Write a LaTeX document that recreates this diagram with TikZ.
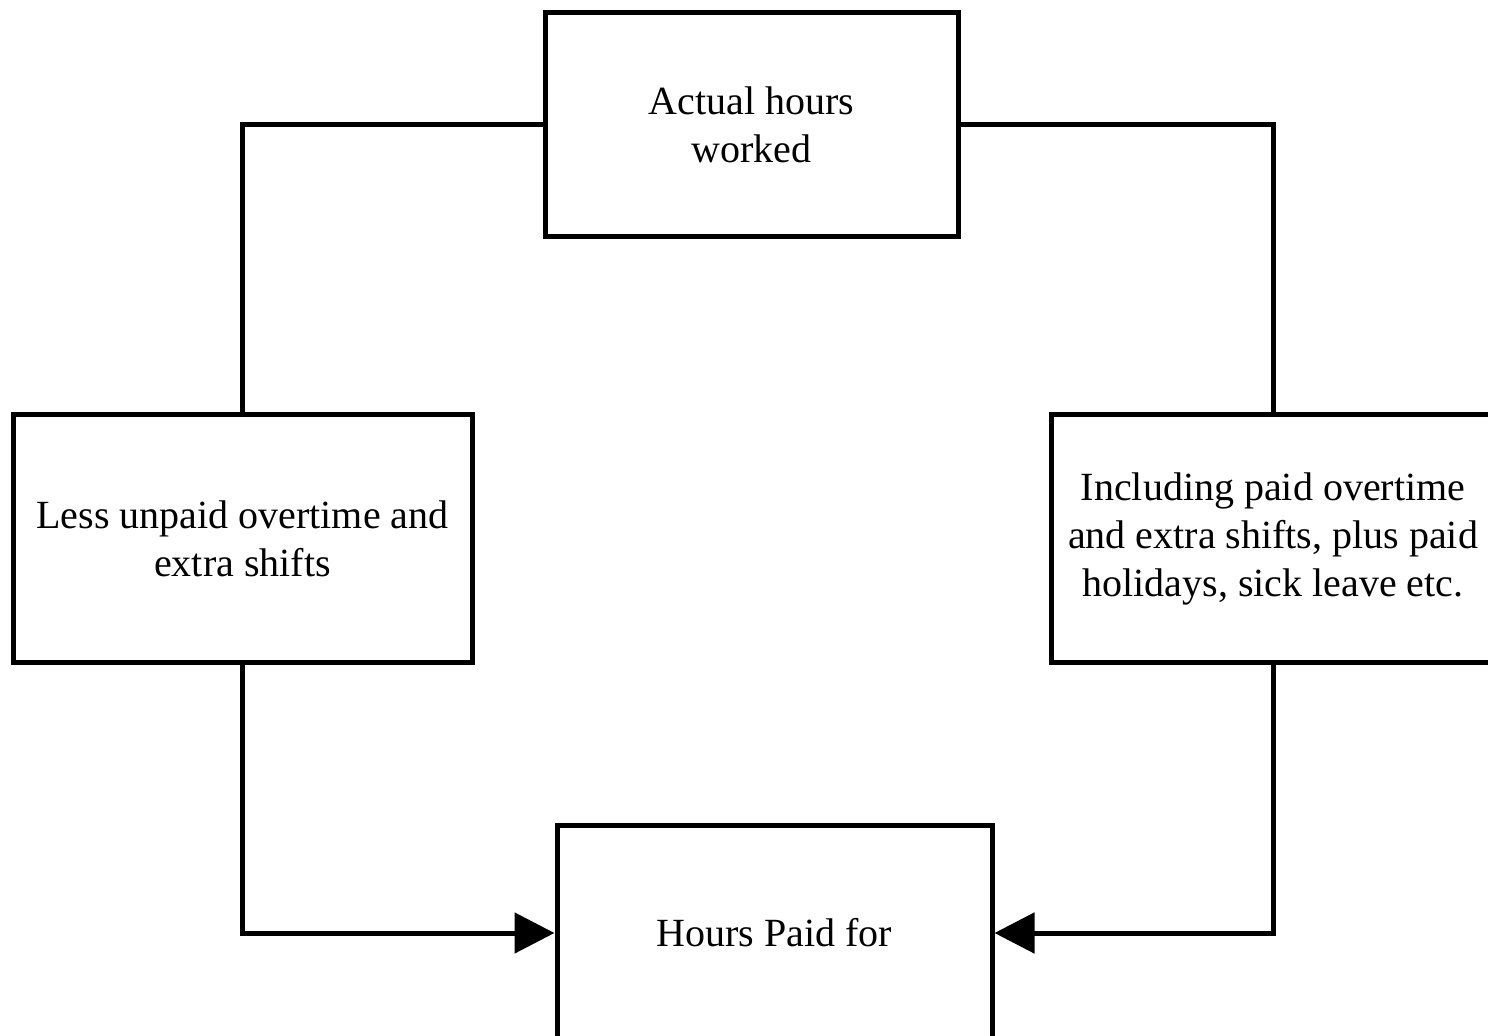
\documentclass[tikz,border=0pt]{standalone}
\usepackage{fontspec}
\setmainfont{Liberation Serif}
\usetikzlibrary{arrows.meta}
\begin{document}
\begin{tikzpicture}[x=0.5pt,y=-0.5pt,
  box/.style={draw=black,line width=2.5pt,inner sep=0pt,align=center,
    font=\fontsize{20}{24}\selectfont},
  conn/.style={draw=black,line width=2.5pt},
  arr/.style={conn,-{Triangle[length=20pt,width=20pt]}}]
\useasboundingbox (0,0) rectangle (1488,1036);
\clip (0,0) rectangle (1488,1036);
\fill[white] (0,0) rectangle (1488,1036);
\node[box,minimum width=206.5pt,minimum height=112pt] (top) at (751.5,125) {Actual hours\\worked};
\node[box,minimum width=229.5pt,minimum height=124pt] (left) at (242.5,539) {Less unpaid overtime and\\extra shifts};
\node[box,minimum width=222pt,minimum height=124pt] (right) at (1273,539) {Including paid overtime\\and extra shifts, plus paid\\holidays, sick leave etc.};
\node[box,minimum width=217.5pt,minimum height=108pt] (bottom) at (774.5,933) {Hours Paid for};
\draw[conn] (top.west) -| (left.north);
\draw[conn] (top.east) -| (right.north);
\draw[arr] (left.south) |- (bottom.west);
\draw[arr] (right.south) |- (bottom.east);
\end{tikzpicture}
\end{document}
